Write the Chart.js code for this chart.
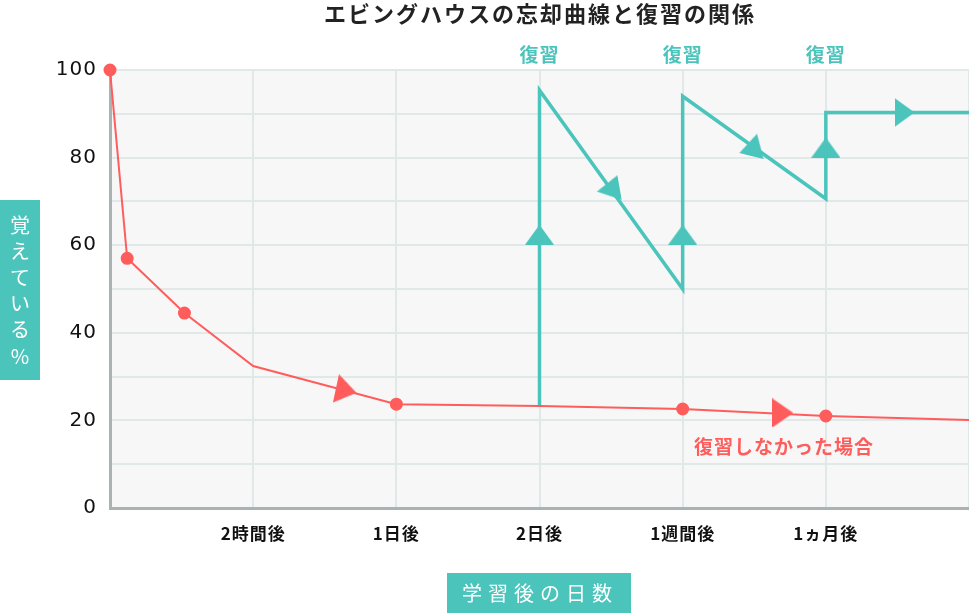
<!DOCTYPE html>
<html>
<head>
<meta charset="utf-8">
<script src="https://cdn.jsdelivr.net/npm/chart.js@4"></script>
<style>
  html, body { margin: 0; padding: 0; background: #fff; }
  #wrap { width: 969px; height: 613px; }
</style>
</head>
<body>
<div id="wrap"><canvas id="chart"></canvas></div>
<script>
// Data
let xLabels = ['', '2時間後', '1日後', '2日後', '1週間後', '1ヵ月後', ''];
let forgetX = [0, 0.12, 0.52, 1, 2, 3, 4, 5, 6];
let forgetY = [100, 57, 44.5, 32.4, 23.7, 23.3, 22.6, 21.0, 20.1];
let forgetMarked = [true, true, true, false, true, false, true, true, false];
let reviewX = [3, 3, 4, 4, 5, 5, 6];
let reviewY = [23.3, 95.4, 50, 94, 70.6, 90.3, 90.3];
let reviewAt = [3, 4, 5];
let redArrowX = [1.65, 4.70];
let redArrowY = [26.8, 21.7];
let redArrowRot = [102, 90];
let tealArrowX = [3, 3.48, 4, 4.50, 5, 5.55];
let tealArrowY = [62.4, 72.7, 62.4, 82.9, 82.3, 90.3];
let tealArrowRot = [0, 260, 0, 14, 0, 90];

const RED = '#ff5c5c';
const TEAL = '#4bc4bc';
const FONT = '"Noto Sans CJK JP", "Noto Sans", sans-serif';

// triangle image used as arrow head (points up before rotation)
function makeTri(w, h, color) {
    let c = document.createElement('canvas');
    c.width = w; c.height = h;
    let g = c.getContext('2d');
    g.fillStyle = color;
    g.beginPath();
    g.moveTo(0, h); g.lineTo(w / 2, 0); g.lineTo(w, h);
    g.closePath();
    g.fill();
    return c;
}
let redTri = makeTri(29, 21, RED);
let tealTri = makeTri(29, 20, TEAL);
let tealTriSmall = makeTri(25, 23, TEAL);

let decor = {
    id: 'decor',
    beforeDraw(chart) {
        let a = chart.chartArea, ctx = chart.ctx;
        ctx.save();
        ctx.fillStyle = '#f7f7f7';
        ctx.fillRect(a.left, a.top, a.right - a.left, a.bottom - a.top);
        ctx.restore();
        // a little tracking for the tick labels
        ctx.letterSpacing = '1px';
    },
    afterDraw(chart) {
        let ctx = chart.ctx, xs = chart.scales.x;
        ctx.save();
        ctx.textAlign = 'center';
        ctx.textBaseline = 'middle';

        // title
        ctx.fillStyle = '#222';
        ctx.font = 'bold 22px ' + FONT;
        ctx.letterSpacing = '2px';
        ctx.fillText('エビングハウスの忘却曲線と復習の関係', 540, 14);

        // review labels
        ctx.fillStyle = TEAL;
        ctx.font = 'bold 19px ' + FONT;
        ctx.letterSpacing = '1px';
        reviewAt.forEach(v => ctx.fillText('復習', xs.getPixelForValue(v), 55));

        // no-review label
        ctx.fillStyle = RED;
        ctx.font = 'bold 19px ' + FONT;
        ctx.fillText('復習しなかった場合', 784, 447);

        // y axis title box
        ctx.letterSpacing = '0px';
        ctx.fillStyle = TEAL;
        ctx.fillRect(0, 200, 40, 180);
        ctx.fillStyle = '#fff';
        ctx.font = '20px ' + FONT;
        '覚えている%'.split('').forEach((ch, i) => ctx.fillText(ch, 20, 225 + i * 26.2));

        // x axis title box
        ctx.fillStyle = TEAL;
        ctx.fillRect(447, 573, 184, 40);
        ctx.fillStyle = '#fff';
        ctx.font = '20px ' + FONT;
        ctx.letterSpacing = '6px';
        ctx.fillText('学習後の日数', 540, 593);
        ctx.restore();
    }
};

function generateChart() {
    let ctx = document.getElementById('chart').getContext('2d');
    new Chart(ctx, {
        type: 'scatter',
        data: {
            datasets: [
                {
                    label: '復習',
                    data: reviewX.map((x, i) => ({ x: x, y: reviewY[i] })),
                    showLine: true,
                    borderColor: TEAL,
                    borderWidth: 3.5,
                    borderJoinStyle: 'miter',
                    pointRadius: 0,
                    clip: false,
                    order: 3
                },
                {
                    label: '復習しなかった場合',
                    data: forgetX.map((x, i) => ({ x: x, y: forgetY[i] })),
                    showLine: true,
                    borderColor: RED,
                    borderWidth: 2,
                    backgroundColor: RED,
                    pointRadius: forgetMarked.map(m => m ? 5.5 : 0),
                    pointHoverRadius: 0,
                    clip: false,
                    order: 2
                },
                {
                    label: 'red arrows',
                    data: redArrowX.map((x, i) => ({ x: x, y: redArrowY[i] })),
                    pointStyle: redTri,
                    rotation: redArrowRot,
                    clip: false,
                    order: 1
                },
                {
                    label: 'teal arrows',
                    data: tealArrowX.map((x, i) => ({ x: x, y: tealArrowY[i] })),
                    pointStyle: tealArrowRot.map((r, i) => (i === 1 || i === 3) ? tealTriSmall : tealTri),
                    rotation: tealArrowRot,
                    clip: false,
                    order: 1
                }
            ]
        },
        options: {
            responsive: true,
            maintainAspectRatio: false,
            animation: false,
            events: [],
            layout: { autoPadding: false, padding: { top: 70, left: 0, right: 0, bottom: 0 } },
            plugins: { legend: { display: false }, tooltip: { enabled: false } },
            scales: {
                x: {
                    type: 'linear',
                    min: 0, max: 6,
                    afterFit: s => { s.height = 105; s.paddingLeft = 0; s.paddingRight = 0; },
                    grid: { color: '#e1e8e8', lineWidth: 2, drawTicks: false },
                    border: { color: '#a9b3b3', width: 3 },
                    ticks: {
                        stepSize: 1,
                        padding: 15,
                        color: '#111',
                        font: { family: FONT, size: 17, weight: 'bold' },
                        callback: v => xLabels[v]
                    }
                },
                y: {
                    min: 0, max: 100,
                    afterFit: s => { s.width = 110; },
                    grid: { color: '#e1e8e8', lineWidth: 2, drawTicks: false },
                    border: { color: '#a9b3b3', width: 3 },
                    ticks: {
                        stepSize: 10,
                        padding: 13,
                        color: '#111',
                        font: { family: '"DejaVu Sans", sans-serif', size: 20 },
                        callback: v => v % 20 === 0 ? v : ''
                    }
                }
            }
        },
        plugins: [decor]
    });
}

generateChart();
</script>
</body>
</html>
